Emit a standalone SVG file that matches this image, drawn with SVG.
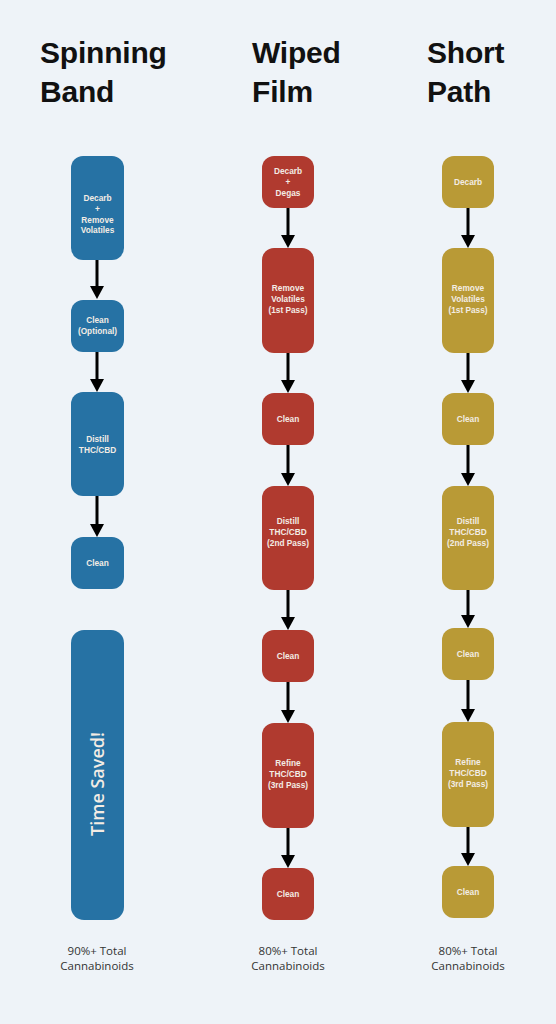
<svg xmlns="http://www.w3.org/2000/svg" width="556" height="1024" viewBox="0 0 556 1024">
<defs>
<marker id="ah" markerWidth="13" markerHeight="14" refX="3" refY="7" orient="auto" markerUnits="userSpaceOnUse" viewBox="0 0 13 14">
<path d="M0,0 L13,7 L0,14 Z" fill="#000"/>
</marker>
<style>
.title{font-family:"Liberation Sans",Arial,sans-serif;font-weight:bold;font-size:30px;letter-spacing:-0.2px;fill:#111}
.lbl{font-family:"Liberation Sans",Arial,sans-serif;font-weight:bold;font-size:8.3px;fill:#f3ece4;text-anchor:middle}
.foot{font-family:"Open Sans","Liberation Sans",sans-serif;font-size:11.5px;fill:#333;text-anchor:middle}
.b{fill:#2672a4}
.r{fill:#b03a2f}
.g{fill:#b99a36}
.arr{stroke:#000;stroke-width:3;fill:none}
</style>
</defs>
<rect width="556" height="1024" fill="#eef3f8"/>
<g id="titles">
<text class="title" x="40" y="63">Spinning</text>
<text class="title" x="40" y="102">Band</text>
<text class="title" x="252" y="63">Wiped</text>
<text class="title" x="252" y="102">Film</text>
<text class="title" x="427" y="63">Short</text>
<text class="title" x="427" y="102">Path</text>
</g>
<g id="connectors">
<line class="arr" x1="97" y1="260" x2="97" y2="289" marker-end="url(#ah)"/>
<line class="arr" x1="97" y1="352" x2="97" y2="382" marker-end="url(#ah)"/>
<line class="arr" x1="97" y1="496" x2="97" y2="527" marker-end="url(#ah)"/>
<line class="arr" x1="288" y1="208" x2="288" y2="238" marker-end="url(#ah)"/>
<line class="arr" x1="288" y1="353" x2="288" y2="383" marker-end="url(#ah)"/>
<line class="arr" x1="288" y1="445" x2="288" y2="476" marker-end="url(#ah)"/>
<line class="arr" x1="288" y1="590" x2="288" y2="620" marker-end="url(#ah)"/>
<line class="arr" x1="288" y1="682" x2="288" y2="713" marker-end="url(#ah)"/>
<line class="arr" x1="288" y1="828" x2="288" y2="858" marker-end="url(#ah)"/>
<line class="arr" x1="468" y1="208" x2="468" y2="238" marker-end="url(#ah)"/>
<line class="arr" x1="468" y1="353" x2="468" y2="383" marker-end="url(#ah)"/>
<line class="arr" x1="468" y1="445" x2="468" y2="476" marker-end="url(#ah)"/>
<line class="arr" x1="468" y1="590" x2="468" y2="618" marker-end="url(#ah)"/>
<line class="arr" x1="468" y1="680" x2="468" y2="712" marker-end="url(#ah)"/>
<line class="arr" x1="468" y1="827" x2="468" y2="856" marker-end="url(#ah)"/>
</g>
<g id="sb1"><rect class="b" x="71" y="156" width="53" height="104" rx="12"/>
<text class="lbl" x="97.5" y="201">Decarb</text><text class="lbl" x="97.5" y="212">+</text><text class="lbl" x="97.5" y="223">Remove</text><text class="lbl" x="97.5" y="233">Volatiles</text></g>
<g id="sb2"><rect class="b" x="71" y="300" width="53" height="52" rx="12"/>
<text class="lbl" x="97.5" y="323">Clean</text><text class="lbl" x="97.5" y="334">(Optional)</text></g>
<g id="sb3"><rect class="b" x="71" y="392" width="53" height="104" rx="12"/>
<text class="lbl" x="97.5" y="442">Distill</text><text class="lbl" x="97.5" y="453">THC/CBD</text></g>
<g id="sb4"><rect class="b" x="71" y="537" width="53" height="52" rx="12"/>
<text class="lbl" x="97.5" y="566">Clean</text></g>
<g id="sb5"><rect class="b" x="71" y="630" width="53" height="290" rx="13"/>
<text x="0" y="0" transform="translate(103.5,784) rotate(-90)" style="font-family:'Open Sans','Liberation Sans',sans-serif;font-weight:600;font-size:18px;fill:#f3ece4;text-anchor:middle">Time Saved!</text></g>
<g id="wf1"><rect class="r" x="262" y="156" width="52" height="52" rx="12"/>
<text class="lbl" x="288" y="174">Decarb</text><text class="lbl" x="288" y="185">+</text><text class="lbl" x="288" y="196">Degas</text></g>
<g id="wf2"><rect class="r" x="262" y="248" width="52" height="105" rx="12"/>
<text class="lbl" x="288" y="291">Remove</text><text class="lbl" x="288" y="302">Volatiles</text><text class="lbl" x="288" y="313">(1st Pass)</text></g>
<g id="wf3"><rect class="r" x="262" y="393" width="52" height="52" rx="12"/>
<text class="lbl" x="288" y="422">Clean</text></g>
<g id="wf4"><rect class="r" x="262" y="486" width="52" height="104" rx="12"/>
<text class="lbl" x="288" y="524">Distill</text><text class="lbl" x="288" y="535">THC/CBD</text><text class="lbl" x="288" y="546">(2nd Pass)</text></g>
<g id="wf5"><rect class="r" x="262" y="630" width="52" height="52" rx="12"/>
<text class="lbl" x="288" y="659">Clean</text></g>
<g id="wf6"><rect class="r" x="262" y="723" width="52" height="105" rx="12"/>
<text class="lbl" x="288" y="766">Refine</text><text class="lbl" x="288" y="777">THC/CBD</text><text class="lbl" x="288" y="788">(3rd Pass)</text></g>
<g id="wf7"><rect class="r" x="262" y="868" width="52" height="52" rx="12"/>
<text class="lbl" x="288" y="897">Clean</text></g>
<g id="sp1"><rect class="g" x="442" y="156" width="52" height="52" rx="12"/>
<text class="lbl" x="468" y="185">Decarb</text></g>
<g id="sp2"><rect class="g" x="442" y="248" width="52" height="105" rx="12"/>
<text class="lbl" x="468" y="291">Remove</text><text class="lbl" x="468" y="302">Volatiles</text><text class="lbl" x="468" y="313">(1st Pass)</text></g>
<g id="sp3"><rect class="g" x="442" y="393" width="52" height="52" rx="12"/>
<text class="lbl" x="468" y="422">Clean</text></g>
<g id="sp4"><rect class="g" x="442" y="486" width="52" height="104" rx="12"/>
<text class="lbl" x="468" y="524">Distill</text><text class="lbl" x="468" y="535">THC/CBD</text><text class="lbl" x="468" y="546">(2nd Pass)</text></g>
<g id="sp5"><rect class="g" x="442" y="628" width="52" height="52" rx="12"/>
<text class="lbl" x="468" y="657">Clean</text></g>
<g id="sp6"><rect class="g" x="442" y="722" width="52" height="105" rx="12"/>
<text class="lbl" x="468" y="765">Refine</text><text class="lbl" x="468" y="776">THC/CBD</text><text class="lbl" x="468" y="787">(3rd Pass)</text></g>
<g id="sp7"><rect class="g" x="442" y="866" width="52" height="52" rx="12"/>
<text class="lbl" x="468" y="895">Clean</text></g>
<g id="footers">
<text class="foot" x="97" y="955">90%+ Total</text><text class="foot" x="97" y="970">Cannabinoids</text>
<text class="foot" x="288" y="955">80%+ Total</text><text class="foot" x="288" y="970">Cannabinoids</text>
<text class="foot" x="468" y="955">80%+ Total</text><text class="foot" x="468" y="970">Cannabinoids</text>
</g>
</svg>
